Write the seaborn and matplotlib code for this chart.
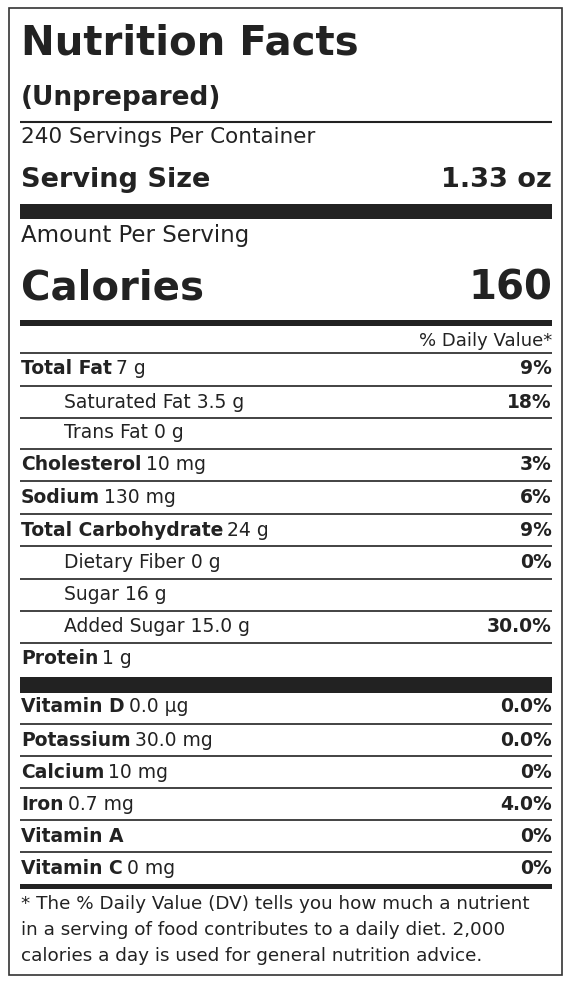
import matplotlib
matplotlib.use("Agg")
import matplotlib.pyplot as plt
import seaborn as sns
from matplotlib.transforms import offset_copy

sns.set_theme(style="white")
plt.rcParams['font.family'] = ['DejaVu Sans']

nutr_names = ["Total Fat", "Saturated Fat", "Trans Fat", "Cholesterol", "Sodium",
              "Total Carbohydrate", "Dietary Fiber", "Sugar", "Added Sugar", "Protein"]
nutr_amounts = ["7 g", "3.5 g", "0 g", "10 mg", "130 mg", "24 g", "0 g", "16 g", "15.0 g", "1 g"]
nutr_dv = ["9%", "18%", "", "3%", "6%", "9%", "0%", "", "30.0%", ""]
nutr_indent = [0, 1, 1, 0, 0, 0, 1, 1, 1, 0]
vit_names = ["Vitamin D", "Potassium", "Calcium", "Iron", "Vitamin A", "Vitamin C"]
vit_amounts = ["0.0 µg", "30.0 mg", "10 mg", "0.7 mg", "", "0 mg"]
vit_dv = ["0.0%", "0.0%", "0%", "4.0%", "0%", "0%"]
footnote = ["* The % Daily Value (DV) tells you how much a nutrient",
            "in a serving of food contributes to a daily diet. 2,000",
            "calories a day is used for general nutrition advice."]

W, H = 570, 982
fig = plt.figure(figsize=(W/100, H/100), dpi=100)
ax = fig.add_axes([0, 0, 1, 1])
ax.set_xlim(0, W); ax.set_ylim(H, 0); ax.axis("off")
C = "#222222"
L, R = 20, 552
FS = 13.5

ax.add_patch(plt.Rectangle((9, 8), 553, 967, fill=False, ec="#333333", lw=1.2))

def hline(y, lw, x0=L):
    ax.plot([x0, R], [y, y], color=C, lw=lw, solid_capstyle="butt")

def bar(y0, y1):
    ax.add_patch(plt.Rectangle((L, y0), R-L, y1-y0, color=C, lw=0))

fig.canvas.draw()
rend = fig.canvas.get_renderer()

def two(x, y, a, b, size):
    t = ax.text(x, y, a, fontsize=size, fontweight="bold", color=C, va="center", ha="left")
    if b:
        w = t.get_window_extent(rend).width
        tr = offset_copy(ax.transData, fig=fig, x=w + 4, y=0, units="dots")
        ax.text(x, y, b, fontsize=size, color=C, va="center", ha="left", transform=tr)

ax.text(L+1, 43, "Nutrition Facts", fontsize=29, fontweight="heavy", color=C, va="center")
ax.text(L+1, 98, "(Unprepared)", fontsize=19, fontweight="bold", color=C, va="center")
hline(122, 1.5)
ax.text(L+1, 137, "240 Servings Per Container", fontsize=15.5, color=C, va="center")
ax.text(L+1, 180, "Serving Size", fontsize=19.5, fontweight="bold", color=C, va="center")
ax.text(R, 180, "1.33 oz", fontsize=19.5, fontweight="bold", color=C, va="center", ha="right")
bar(204, 219)
ax.text(L+1, 235, "Amount Per Serving", fontsize=16.5, color=C, va="center")
ax.text(L+1, 288, "Calories", fontsize=29, fontweight="heavy", color=C, va="center")
ax.text(R, 288, "160", fontsize=29, fontweight="heavy", color=C, va="center", ha="right")
bar(320, 326)
ax.text(R, 341, "% Daily Value*", fontsize=13, color=C, va="center", ha="right")

ys = [369, 402, 433, 465, 497, 530, 562, 595, 627, 659]
hline(353, 1.2)
for i, (n, a, d, ind) in enumerate(zip(nutr_names, nutr_amounts, nutr_dv, nutr_indent)):
    y = ys[i]
    x = L + 44 if ind else L + 1
    if ind:
        ax.text(x, y, f"{n} {a}", fontsize=FS, color=C, va="center")
    else:
        two(x, y, n, a, FS)
    if d:
        ax.text(R, y, d, fontsize=FS, fontweight="bold", color=C, va="center", ha="right")
    if i < len(ys) - 1:
        hline((ys[i] + ys[i+1]) / 2, 1.2)
bar(677, 693)
vy = [707, 740, 772, 804, 836, 868]
for i, (n, a, d) in enumerate(zip(vit_names, vit_amounts, vit_dv)):
    two(L + 1, vy[i], n, a, FS)
    ax.text(R, vy[i], d, fontsize=FS, fontweight="bold", color=C, va="center", ha="right")
    if i < len(vy) - 1:
        hline((vy[i] + vy[i+1]) / 2, 1.2)
bar(884, 889)
for i, line in enumerate(footnote):
    ax.text(L + 1, 904 + 26*i, line, fontsize=13.2, color=C, va="center")

fig.savefig("out.png", dpi=100, facecolor="white")
